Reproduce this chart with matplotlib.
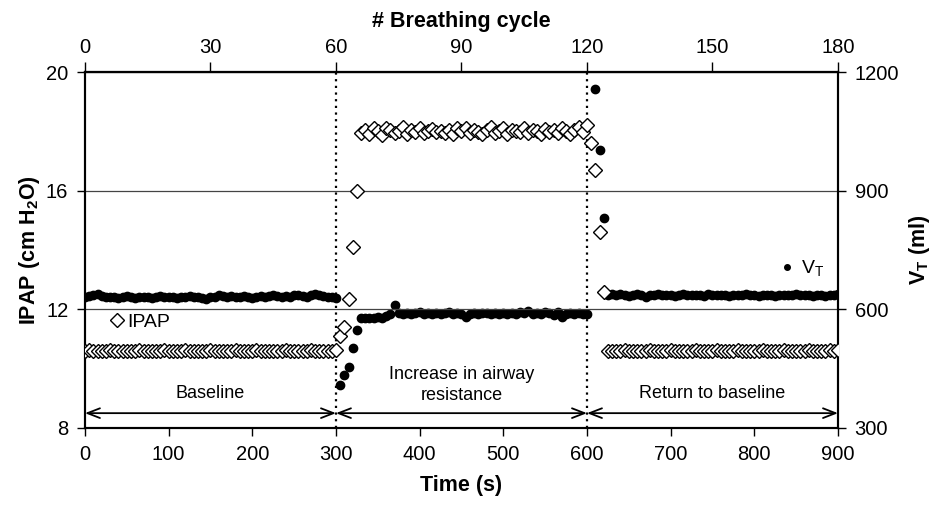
import numpy as np
import matplotlib
matplotlib.use("Agg")
import matplotlib.pyplot as plt
from matplotlib.lines import Line2D

plt.rcParams['font.family'] = ['Liberation Sans', 'DejaVu Sans']
plt.rcParams['mathtext.fontset'] = 'custom'
plt.rcParams['mathtext.rm'] = 'Liberation Sans'
plt.rcParams['mathtext.bf'] = 'Liberation Sans:bold'

# ---------------- data ----------------
cycle_seconds = 5
time_s = np.arange(0, 901, cycle_seconds)

ipap_baseline = [
    10.60, 10.62, 10.60, 10.59, 10.61, 10.60, 10.62, 10.60, 10.58, 10.60,
    10.61, 10.60, 10.59, 10.62, 10.60, 10.61, 10.60, 10.58, 10.60, 10.62,
    10.60, 10.61, 10.59, 10.60, 10.62, 10.60, 10.61, 10.60, 10.59, 10.60,
    10.62, 10.60, 10.61, 10.60, 10.58, 10.60, 10.62, 10.61, 10.60, 10.59,
    10.60, 10.62, 10.60, 10.61, 10.60, 10.59, 10.61, 10.60, 10.62, 10.60,
    10.60, 10.61, 10.59, 10.60, 10.62, 10.60, 10.61, 10.60, 10.59, 10.61,
    10.62]
ipap_resistance = [
    11.10, 11.40, 12.35, 14.10, 16.00,
    17.95, 18.05, 17.90, 18.10, 18.00, 17.88, 18.12, 18.05, 17.95, 18.00,
    18.15, 17.92, 18.05, 17.98, 18.10, 17.95, 18.02, 18.08, 17.98, 18.00,
    17.95, 18.05, 17.92, 18.10, 18.00, 18.12, 17.95, 18.05, 17.98, 17.90,
    18.05, 18.15, 17.95, 18.00, 18.10, 17.92, 18.05, 18.00, 17.98, 18.12,
    17.95, 18.05, 18.00, 17.90, 18.08, 17.98, 18.05, 17.95, 18.10, 18.00,
    17.92, 18.05, 18.15, 17.98]
ipap_return = [
    18.20, 17.60, 16.70, 14.60, 12.60,
    10.60, 10.58, 10.61, 10.60, 10.62, 10.59, 10.60, 10.61, 10.60, 10.58,
    10.62, 10.60, 10.61, 10.59, 10.60, 10.62, 10.60, 10.61, 10.60, 10.59,
    10.60, 10.62, 10.60, 10.58, 10.61, 10.60, 10.62, 10.60, 10.59, 10.61,
    10.60, 10.62, 10.60, 10.61, 10.59, 10.60, 10.58, 10.62, 10.60, 10.61,
    10.60, 10.59, 10.62, 10.60, 10.61, 10.60, 10.58, 10.60, 10.62, 10.60,
    10.61, 10.59, 10.60, 10.62, 10.60, 10.62]

vt_baseline = [
    630, 633, 635, 638, 634, 631, 630, 632, 629, 631,
    633, 630, 628, 631, 632, 630, 629, 631, 633, 630,
    632, 631, 629, 630, 632, 634, 631, 630, 628, 626,
    630, 632, 635, 633, 631, 634, 632, 630, 633, 631,
    629, 632, 634, 631, 633, 636, 633, 631, 634, 632,
    635, 637, 634, 632, 635, 638, 636, 634, 632, 630,
    628]
vt_resistance = [
    409, 434, 455, 502, 548,
    578, 579, 577, 578, 580, 579, 582, 588, 610, 590,
    589, 591, 588, 590, 592, 589, 590, 588, 591, 589,
    590, 592, 588, 590, 587, 580, 588, 590, 589, 591,
    590, 588, 590, 589, 591, 588, 590, 589, 592, 590,
    595, 589, 591, 588, 593, 590, 586, 592, 580, 589,
    590, 588, 591, 589]
vt_return = [
    589, np.nan, 1157, 1003, 831,
    636, 638, 635, 640, 637, 634, 636, 638, 635, 632,
    636, 637, 639, 636, 635, 637, 634, 636, 638, 636,
    635, 637, 636, 634, 638, 636, 635, 637, 636, 633,
    635, 637, 636, 638, 635, 636, 634, 637, 636, 635,
    633, 636, 637, 635, 636, 638, 636, 635, 637, 634,
    636, 635, 633, 637, 636, 638]

ipap = np.array(ipap_baseline + ipap_resistance + ipap_return)
vt = np.array(vt_baseline + vt_resistance + vt_return, dtype=float)

phase_bounds = [0, 300, 600, 900]
phase_labels = ["Baseline", "Increase in airway\nresistance", "Return to baseline"]

x_ticks = [0, 100, 200, 300, 400, 500, 600, 700, 800, 900]
cycle_ticks = [0, 30, 60, 90, 120, 150, 180]
ipap_ticks = [8, 12, 16, 20]
vt_ticks = [300, 600, 900, 1200]

# ---------------- figure ----------------
fig = plt.figure(figsize=(9.44, 5.05), dpi=100)
ax = fig.add_axes([0.090, 0.1525, 0.7977, 0.7049])
ax2 = ax.twinx()
ax.set_zorder(ax2.get_zorder() + 1)
ax.patch.set_visible(False)

tick_fs = 14.5
label_fs = 15.5

ax.set_xlim(0, 900)
ax.set_ylim(8, 20)
ax2.set_ylim(300, 1200)
ax.set_xticks(x_ticks)
ax.set_yticks(ipap_ticks)
ax2.set_yticks(vt_ticks)

for a in (ax, ax2):
    for s in a.spines.values():
        s.set_linewidth(1.5)
        s.set_color('black')
ax.tick_params(axis='both', direction='out', length=6, width=1, labelsize=tick_fs, pad=6)
ax2.tick_params(axis='y', direction='out', length=6, width=1, labelsize=tick_fs, pad=6)

ax.yaxis.grid(True, color='#444444', linewidth=0.9)
ax.set_axisbelow(True)

for b in phase_bounds[1:3]:
    ax.axvline(b, color='black', linestyle=(0, (1, 2)), linewidth=1.6, zorder=1)

# data
ax2.plot(time_s, vt, linestyle='none', marker='o', markersize=6,
         color='black', zorder=3)
ax.plot(time_s, ipap, linestyle='none', marker='D', markersize=7.5,
        markerfacecolor='white', markeredgecolor='black', markeredgewidth=1,
        zorder=4)

# secondary top axis
sec = ax.secondary_xaxis('top', functions=(lambda t: t / cycle_seconds,
                                           lambda c: c * cycle_seconds))
sec.set_xticks(cycle_ticks)
sec.tick_params(direction='out', length=7, width=1, labelsize=tick_fs, pad=4)
sec.spines['top'].set_linewidth(1.5)
sec.set_xlabel('# Breathing cycle', fontsize=label_fs, fontweight='bold', labelpad=8)

ax.set_xlabel('Time (s)', fontsize=label_fs, fontweight='bold', labelpad=8)
ax.set_ylabel(r'IPAP (cm H$_\mathbf{2}$O)', fontsize=label_fs, fontweight='bold', labelpad=3)
ax2.set_ylabel(r'V$_\mathbf{T}$ (ml)', fontsize=label_fs, fontweight='bold', labelpad=6)

# phase arrows and labels
arrow_y = 8.5
for (x0, x1), lab in zip(zip(phase_bounds[:-1], phase_bounds[1:]), phase_labels):
    ax.annotate('', xy=(x0, arrow_y), xytext=(x1, arrow_y),
                arrowprops=dict(arrowstyle='<->,head_length=0.9,head_width=0.35',
                                color='black', lw=1.3, shrinkA=0, shrinkB=0))
    ax.text((x0 + x1) / 2, 9.15 if '\n' not in lab else 9.45, lab, ha='center', va='center',
            fontsize=13, linespacing=1.35)

# legends
h_ipap = Line2D([], [], linestyle='none', marker='D', markersize=7,
                markerfacecolor='white', markeredgecolor='black', markeredgewidth=1)
leg1 = ax.legend([h_ipap], ['IPAP'], loc='center left', bbox_to_anchor=(0.032, 0.298),
                 frameon=False, fontsize=14, handlelength=0.8, handletextpad=0.15,
                 borderpad=0, borderaxespad=0)
ax.add_artist(leg1)
h_vt = Line2D([], [], linestyle='none', marker='o', markersize=4, color='black')
leg2 = ax.legend([h_vt], [r'V$_\mathrm{T}$'], loc='center left', bbox_to_anchor=(0.922, 0.447),
                 frameon=False, fontsize=14, handlelength=0.8, handletextpad=0.3,
                 borderpad=0, borderaxespad=0)

fig.savefig('out.png', dpi=100)
